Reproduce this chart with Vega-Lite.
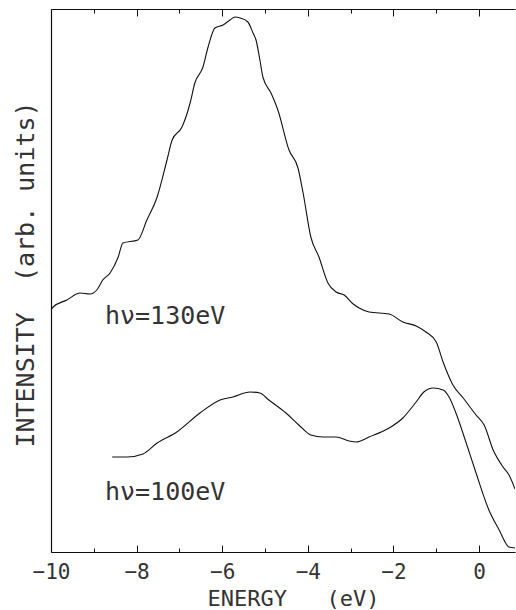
{
  "$schema": "https://vega.github.io/schema/vega-lite/v6.json",
  "width": 464,
  "height": 543,
  "autosize": "none",
  "padding": {"left": 51, "top": 9, "right": 1, "bottom": 58},
  "background": "white",
  "config": {"view": {"stroke": null}},
  "resolve": {"axis": {"x": "independent", "y": "independent"}},
  "layer": [
    {
      "data": {"values": [
        {"series": "130", "energy": -10.02, "intensity": 241},
        {"series": "130", "energy": -9.95, "intensity": 245},
        {"series": "130", "energy": -9.63, "intensity": 252},
        {"series": "130", "energy": -9.32, "intensity": 259},
        {"series": "130", "energy": -9.09, "intensity": 258},
        {"series": "130", "energy": -8.93, "intensity": 262},
        {"series": "130", "energy": -8.79, "intensity": 272},
        {"series": "130", "energy": -8.62, "intensity": 279},
        {"series": "130", "energy": -8.43, "intensity": 295},
        {"series": "130", "energy": -8.32, "intensity": 309},
        {"series": "130", "energy": -7.97, "intensity": 312},
        {"series": "130", "energy": -7.76, "intensity": 332},
        {"series": "130", "energy": -7.52, "intensity": 355},
        {"series": "130", "energy": -7.29, "intensity": 392},
        {"series": "130", "energy": -7.17, "intensity": 412},
        {"series": "130", "energy": -6.94, "intensity": 425},
        {"series": "130", "energy": -6.75, "intensity": 449},
        {"series": "130", "energy": -6.64, "intensity": 469},
        {"series": "130", "energy": -6.45, "intensity": 485},
        {"series": "130", "energy": -6.33, "intensity": 505},
        {"series": "130", "energy": -6.17, "intensity": 524},
        {"series": "130", "energy": -5.98, "intensity": 527},
        {"series": "130", "energy": -5.82, "intensity": 532},
        {"series": "130", "energy": -5.70, "intensity": 535},
        {"series": "130", "energy": -5.58, "intensity": 534},
        {"series": "130", "energy": -5.40, "intensity": 530},
        {"series": "130", "energy": -5.28, "intensity": 519},
        {"series": "130", "energy": -5.21, "intensity": 512},
        {"series": "130", "energy": -5.12, "intensity": 492},
        {"series": "130", "energy": -5.05, "intensity": 475},
        {"series": "130", "energy": -4.86, "intensity": 459},
        {"series": "130", "energy": -4.70, "intensity": 442},
        {"series": "130", "energy": -4.44, "intensity": 402},
        {"series": "130", "energy": -4.23, "intensity": 384},
        {"series": "130", "energy": -4.11, "intensity": 359},
        {"series": "130", "energy": -3.93, "intensity": 315},
        {"series": "130", "energy": -3.74, "intensity": 295},
        {"series": "130", "energy": -3.53, "intensity": 269},
        {"series": "130", "energy": -3.34, "intensity": 260},
        {"series": "130", "energy": -3.15, "intensity": 257},
        {"series": "130", "energy": -2.94, "intensity": 248},
        {"series": "130", "energy": -2.80, "intensity": 244},
        {"series": "130", "energy": -2.57, "intensity": 240},
        {"series": "130", "energy": -2.10, "intensity": 238},
        {"series": "130", "energy": -1.78, "intensity": 230},
        {"series": "130", "energy": -1.47, "intensity": 226},
        {"series": "130", "energy": -1.24, "intensity": 220},
        {"series": "130", "energy": -1.00, "intensity": 210},
        {"series": "130", "energy": -0.84, "intensity": 190},
        {"series": "130", "energy": -0.61, "intensity": 167},
        {"series": "130", "energy": -0.37, "intensity": 154},
        {"series": "130", "energy": -0.07, "intensity": 137},
        {"series": "130", "energy": 0.12, "intensity": 127},
        {"series": "130", "energy": 0.33, "intensity": 102},
        {"series": "130", "energy": 0.56, "intensity": 85},
        {"series": "130", "energy": 0.70, "intensity": 77},
        {"series": "130", "energy": 0.84, "intensity": 63},
        {"series": "100", "energy": -8.57, "intensity": 95},
        {"series": "100", "energy": -8.22, "intensity": 95},
        {"series": "100", "energy": -7.85, "intensity": 98},
        {"series": "100", "energy": -7.52, "intensity": 109},
        {"series": "100", "energy": -7.06, "intensity": 120},
        {"series": "100", "energy": -6.52, "intensity": 139},
        {"series": "100", "energy": -6.05, "intensity": 152},
        {"series": "100", "energy": -5.75, "intensity": 155},
        {"series": "100", "energy": -5.35, "intensity": 160},
        {"series": "100", "energy": -5.12, "intensity": 159},
        {"series": "100", "energy": -4.91, "intensity": 152},
        {"series": "100", "energy": -4.51, "intensity": 139},
        {"series": "100", "energy": -4.21, "intensity": 127},
        {"series": "100", "energy": -3.93, "intensity": 117},
        {"series": "100", "energy": -3.64, "intensity": 115},
        {"series": "100", "energy": -3.34, "intensity": 115},
        {"series": "100", "energy": -3.04, "intensity": 111},
        {"series": "100", "energy": -2.87, "intensity": 110},
        {"series": "100", "energy": -2.57, "intensity": 115},
        {"series": "100", "energy": -2.10, "intensity": 124},
        {"series": "100", "energy": -1.78, "intensity": 134},
        {"series": "100", "energy": -1.47, "intensity": 150},
        {"series": "100", "energy": -1.29, "intensity": 160},
        {"series": "100", "energy": -1.07, "intensity": 164},
        {"series": "100", "energy": -0.84, "intensity": 162},
        {"series": "100", "energy": -0.70, "intensity": 155},
        {"series": "100", "energy": -0.54, "intensity": 139},
        {"series": "100", "energy": -0.30, "intensity": 109},
        {"series": "100", "energy": -0.07, "intensity": 79},
        {"series": "100", "energy": 0.23, "intensity": 42},
        {"series": "100", "energy": 0.47, "intensity": 22},
        {"series": "100", "energy": 0.70, "intensity": 5},
        {"series": "100", "energy": 0.84, "intensity": 4}
      ]},
      "mark": {"type": "line", "color": "#111", "strokeWidth": 1.1, "clip": true, "interpolate": "monotone"},
      "encoding": {
        "x": {
          "field": "energy", "type": "quantitative",
          "scale": {"domain": [-10, 0.84], "nice": false, "zero": false},
          "axis": {
            "orient": "bottom",
            "values": [-10, -9, -8, -7, -6, -5, -4, -3, -2, -1, 0],
            "labelExpr": "datum.value % 2 === 0 ? datum.label : ''",
            "tickSize": {"condition": {"test": "datum.value % 2 === 0", "value": -7}, "value": -4},
            "tickColor": "#111", "tickWidth": 1,
            "domainColor": "#111", "domainWidth": 1.2,
            "grid": false,
            "labelFont": "DejaVu Sans Mono", "labelFontSize": 21, "labelColor": "#333",
            "labelPadding": 27, "labelBaseline": "middle", "labelFlush": false,
            "title": "ENERGY\u00a0\u00a0\u00a0(eV)",
            "titleFont": "DejaVu Sans Mono", "titleFontSize": 22, "titleFontWeight": "normal", "titleColor": "#333",
            "titleX": 242, "titleY": 46, "titleBaseline": "middle", "titleAlign": "center"
          }
        },
        "y": {
          "field": "intensity", "type": "quantitative",
          "scale": {"domain": [0, 543], "nice": false, "zero": false},
          "axis": {
            "orient": "left",
            "ticks": false, "labels": false, "grid": false,
            "domainColor": "#111", "domainWidth": 1.2,
            "title": "INTENSITY\u00a0\u00a0(arb.\u00a0units)",
            "titleFont": "DejaVu Sans Mono", "titleFontSize": 25, "titleFontWeight": "normal", "titleColor": "#333",
            "titleAngle": 270, "titleX": -26, "titleY": 265, "titleBaseline": "middle", "titleAlign": "center"
          }
        },
        "detail": {"field": "series", "type": "nominal"}
      }
    },
    {
      "data": {"values": [
        {"energy": -8.74, "intensity": 236, "label": "hν=130eV"},
        {"energy": -8.74, "intensity": 60, "label": "hν=100eV"}
      ]},
      "mark": {"type": "text", "align": "left", "baseline": "middle", "font": "DejaVu Sans Mono", "fontSize": 25, "color": "#333"},
      "encoding": {
        "x": {
          "field": "energy", "type": "quantitative",
          "scale": {"domain": [-10, 0.84], "nice": false, "zero": false},
          "axis": {
            "orient": "top",
            "values": [-10, -9, -8, -7, -6, -5, -4, -3, -2, -1, 0],
            "labels": false,
            "tickSize": {"condition": {"test": "datum.value % 2 === 0", "value": -7}, "value": -4},
            "tickColor": "#111", "tickWidth": 1,
            "domainColor": "#111", "domainWidth": 1.2,
            "grid": false, "title": null
          }
        },
        "y": {
          "field": "intensity", "type": "quantitative",
          "scale": {"domain": [0, 543], "nice": false, "zero": false},
          "axis": null
        },
        "text": {"field": "label", "type": "nominal"}
      }
    }
  ]
}
